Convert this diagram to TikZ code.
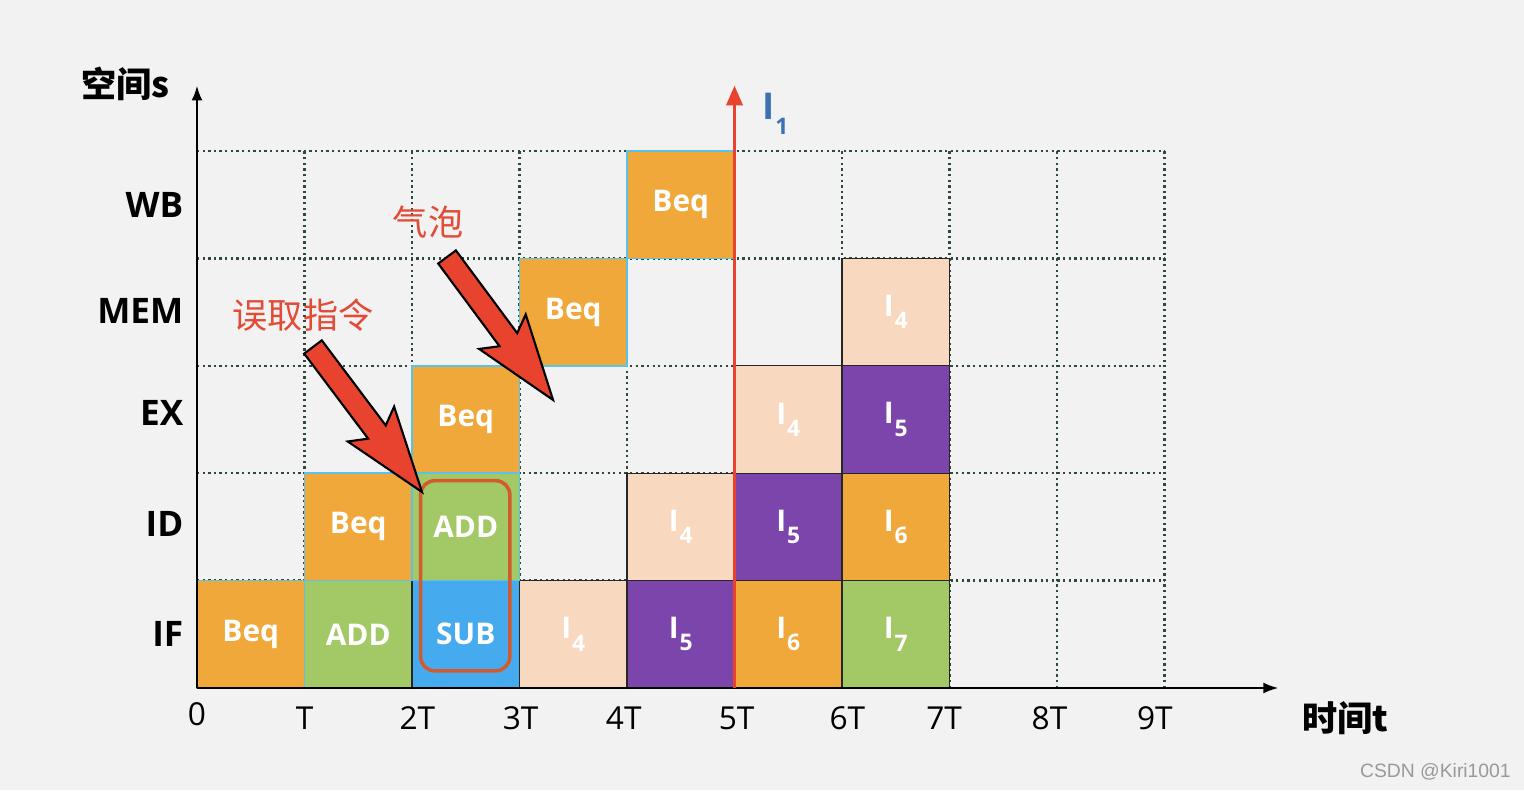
\documentclass[tikz,border=0pt]{standalone}
\usepackage{fontspec}
\setmainfont{Open Sans}
\newfontfamily\cjk{Noto Sans CJK SC}
\newfontfamily\wmfont{Liberation Sans}
\usetikzlibrary{arrows.meta,calc,positioning}

\definecolor{bgray}{HTML}{F2F2F2}
\definecolor{corange}{HTML}{F0A83B}
\definecolor{cgreen}{HTML}{A3C966}
\definecolor{cblue}{HTML}{46ABEE}
\definecolor{cpeach}{HTML}{F8D8BE}
\definecolor{cpurple}{HTML}{7B45AB}
\definecolor{edgeblue}{HTML}{5BC2E7}
\definecolor{gridgreen}{HTML}{2F4A3A}
\definecolor{linered}{HTML}{E8432E}
\definecolor{boxred}{HTML}{D35A2E}
\definecolor{notered}{HTML}{E24B35}
\definecolor{iblue}{HTML}{3C72B0}

\newcommand{\Isub}[1]{I\kern0.5pt\raisebox{-0.75ex}{\fontsize{13}{13}\selectfont #1}}
% block arrow from tail #1 to tip #2
\newcommand{\blockarrow}[2]{%
  \coordinate (ba-h) at ($(#2)!1.5cm!(#1)$);
  \coordinate (ba-b) at ($(#2)!1.7cm!(#1)$);
  \filldraw[bigred] ($(#1)!0.22cm!90:(#2)$) -- ($(ba-h)!0.22cm!90:(#2)$)
    -- ($(ba-b)!0.58cm!90:(#2)$) -- (#2) -- ($(ba-b)!0.58cm!-90:(#2)$)
    -- ($(ba-h)!0.22cm!-90:(#2)$) -- ($(#1)!0.22cm!-90:(#2)$) -- cycle;}

\begin{document}
\begin{tikzpicture}[
    x=2.15cm,
    y=2.148cm,
    cell/.style={
        rectangle,
        minimum width=2.15cm,
        minimum height=2.148cm,
        inner sep=0pt,
        text=white,
        font=\bfseries\fontsize{17}{20}\selectfont
      },
    early/.style={cell,draw=edgeblue,line width=1pt},
    late/.style={cell,draw=black!85,line width=0.7pt},
    gridline/.style={gridgreen,line width=1.3pt,dash pattern=on 1.3pt off 1.9pt},
    axis/.style={-{Latex[length=3mm,width=2.2mm]},line width=1.4pt},
    redline/.style={-{Triangle[length=4mm,width=3.2mm]},linered,line width=2.2pt},
    stage/.style={anchor=east,font=\bfseries\fontsize{20}{24}\selectfont},
    tick/.style={font=\fontsize{18}{20}\selectfont},
    note/.style={text=notered,font=\cjk\fontsize{20}{24}\selectfont},
    bigred/.style={fill=linered,draw=black,line width=1.2pt,line join=miter},
    selbox/.style={draw=boxred,line width=2pt,rounded corners=8pt}
    ]

    \useasboundingbox[fill=bgray] (-1.8326,-0.9497) rectangle (12.344,6.406);

    % dotted grid
    \foreach \i in {1,...,9}
      \draw[gridline] (\i,0) -- (\i,5);
    \foreach \j in {1,...,5}
      \draw[gridline] (0,\j) -- (9,\j);

    % IF
    \node[early,fill=corange] (if-beq) at (0.5,0.5) {Beq};
    \node[early,fill=cgreen] (if-add) at (1.5,0.5) {ADD};
    \node[late,fill=cblue] (if-sub) at (2.5,0.5) {SUB};
    \node[late,fill=cpeach] (if-i4) at (3.5,0.5) {\Isub{4}};
    \node[late,fill=cpurple] (if-i5) at (4.5,0.5) {\Isub{5}};
    \node[late,fill=corange] (if-i6) at (5.5,0.5) {\Isub{6}};
    \node[late,fill=cgreen] (if-i7) at (6.5,0.5) {\Isub{7}};
    % ID
    \node[early,fill=corange] (id-beq) at (1.5,1.5) {Beq};
    \node[early,fill=cgreen] (id-add) at (2.5,1.5) {ADD};
    \node[late,fill=cpeach] (id-i4) at (4.5,1.5) {\Isub{4}};
    \node[late,fill=cpurple] (id-i5) at (5.5,1.5) {\Isub{5}};
    \node[late,fill=corange] (id-i6) at (6.5,1.5) {\Isub{6}};
    % EX
    \node[early,fill=corange] (ex-beq) at (2.5,2.5) {Beq};
    \node[late,fill=cpeach] (ex-i4) at (5.5,2.5) {\Isub{4}};
    \node[late,fill=cpurple] (ex-i5) at (6.5,2.5) {\Isub{5}};
    % MEM
    \node[early,fill=corange] (mem-beq) at (3.5,3.5) {Beq};
    \node[late,fill=cpeach] (mem-i4) at (6.5,3.5) {\Isub{4}};
    % WB
    \node[early,fill=corange] (wb-beq) at (4.5,4.5) {Beq};

    % axes
    \coordinate (o) at (0,0);
    \coordinate (s-end) at (0,5.61);
    \coordinate (t-end) at (10.06,0);
    \draw[axis] (o) -- (s-end);
    \draw[axis] (o) -- (t-end);
    \node[anchor=east,font=\cjk\bfseries\fontsize{20}{24}\selectfont] (s-lbl) at (-0.2,5.62) {空间s};
    \node[font=\cjk\bfseries\fontsize{20}{24}\selectfont] (t-lbl) at (10.68,-0.28) {时间t};

    % stages
    \node[stage] (wb) at (-0.07,4.5) {WB};
    \node[stage] (mem) at (-0.07,3.51) {MEM};
    \node[stage] (ex) at (-0.07,2.56) {EX};
    \node[stage] (id) at (-0.07,1.53) {ID};
    \node[stage] (if) at (-0.07,0.5) {IF};

    % time ticks
    \node[tick] (t0) at (0,-0.24) {0};
    \node[tick] (t1) at (1,-0.28) {T};
    \node[tick] (t2) at (2.05,-0.28) {2T};
    \node[tick] (t3) at (3.01,-0.28) {3T};
    \node[tick] (t4) at (3.97,-0.28) {4T};
    \node[tick] (t5) at (5.02,-0.28) {5T};
    \node[tick] (t6) at (6.05,-0.28) {6T};
    \node[tick] (t7) at (6.95,-0.28) {7T};
    \node[tick] (t8) at (7.93,-0.28) {8T};
    \node[tick] (t9) at (8.91,-0.28) {9T};

    % I1 marker
    \coordinate (r-bot) at (5,0);
    \coordinate (r-top) at (5,5.61);
    \draw[redline] (r-bot) -- (r-top);
    \node[text=iblue,font=\bfseries\fontsize{21}{24}\selectfont] (i1) at (5.38,5.35) {\Isub{1}};

    % flushed pair
    \draw[selbox] (2.08,0.16) rectangle (2.91,1.93);

    % callouts
    \node[note] (fetch-lbl) at (0.986,3.473) {误取指令};
    \node[note] (bubble-lbl) at (2.149,4.339) {气泡};
    \coordinate (fetch-tail) at (1.079,3.175);
    \coordinate (fetch-tip) at (2.093,1.825);
    \coordinate (bubble-tail) at (2.326,4.013);
    \coordinate (bubble-tip) at (3.312,2.682);
    \blockarrow{fetch-tail}{fetch-tip}
    \blockarrow{bubble-tail}{bubble-tip}

    \node[text=black!40,font=\wmfont\fontsize{11}{12}\selectfont] (wm) at (11.52,-0.78) {CSDN @Kiri1001};

  \end{tikzpicture}
\end{document}
